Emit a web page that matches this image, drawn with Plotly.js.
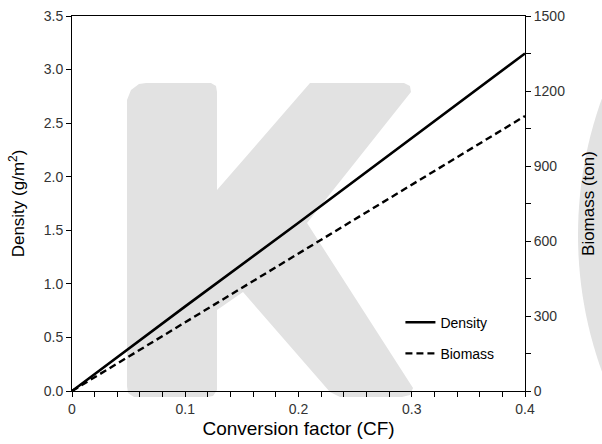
<!DOCTYPE html>
<html>
<head>
<meta charset="utf-8">
<script src="https://cdn.plot.ly/plotly-3.0.1.min.js"></script>
<style>html,body{margin:0;padding:0;background:#fff;}#chart{width:602px;height:444px;}</style>
</head>
<body>
<div id="chart"></div>
<script>
// Data
const conversionFactor = [0, 0.1, 0.2, 0.3, 0.4];
const densityValues = [0, 0.79, 1.57, 2.36, 3.15];
const biomassValues = [0, 275, 550, 825, 1100];
const xTickVals = [0, 0.1, 0.2, 0.3, 0.4];
const yTickVals = [0, 0.5, 1.0, 1.5, 2.0, 2.5, 3.0, 3.5];
const y2TickVals = [0, 300, 600, 900, 1200, 1500];

// layout geometry (pixels)
const W = 602, H = 444;
const M = {l: 72, r: 77, t: 16, b: 53};
const PW = W - M.l - M.r, PH = H - M.t - M.b;
function px(x){ return ((x - M.l) / PW).toFixed(4); }
function py(y){ return ((H - M.b - y) / PH).toFixed(4); }
function P(pts){ return pts.map((p,i)=> (i? 'L':'M') + px(p[0]) + ',' + py(p[1])).join(' ') + ' Z'; }

// decorative watermark (background "K" and part of a circle at the right edge)
const kPath = P([
  [127,100],[131,90],[139,84],[146,83],[211,83],[216,86],[217,92],[217,190],
  [310,83],[404,83],[410,86],[411,92],[307,223],
  [413,388],[410,395],[402,397],[340,397],[330,392],
  [243,292],[217,310],[217,390],[213,396],[207,397],[134,397],[128,393],[127,386]
]);
const arcPts = [];
(function(){
  const cx = 980, cy = 235, r = 402;
  for (let y = 95; y <= 375; y += 10) {
    arcPts.push([cx - Math.sqrt(r*r - (y-cy)*(y-cy)), y]);
  }
  arcPts.push([620, 375]); arcPts.push([620, 95]);
})();
const circlePath = P(arcPts);
const wmColor = 'rgb(226,226,226)';

const font = "'Liberation Sans', Arial, sans-serif";

const traces = [
  {x: conversionFactor, y: densityValues, name: 'Density', type: 'scatter', mode: 'lines',
   line: {color: '#000', width: 2.6}, yaxis: 'y', legendgroup: 'a'},
  {x: conversionFactor, y: biomassValues, name: 'Biomass', type: 'scatter', mode: 'lines',
   line: {color: '#000', width: 2.4, dash: '7px,4px'}, yaxis: 'y2', legendgroup: 'b'}
];

const axisCommon = {
  showgrid: false, zeroline: false, showline: true, linecolor: '#000', linewidth: 1,
  ticks: 'outside', ticklen: 5, tickwidth: 1, tickcolor: '#000',
  tickfont: {family: font, size: 14, color: '#333'}
};

const layout = {
  width: W, height: H,
  margin: M,
  paper_bgcolor: '#fff', plot_bgcolor: 'rgba(0,0,0,0)',
  showlegend: true,
  legend: {x: 0.725, y: 0.225, xanchor: 'left', yanchor: 'top', bgcolor: 'rgba(0,0,0,0)',
           font: {family: font, size: 14, color: '#000'}, traceorder: 'grouped', tracegroupgap: 10,
           itemwidth: 30},
  xaxis: Object.assign({}, axisCommon, {
    range: [0, 0.4], tickvals: xTickVals, ticktext: xTickVals.map(v => v === 0 ? '0' : v.toFixed(1)),
    mirror: true,
    minor: {dtick: 0.02, ticks: 'outside', ticklen: 5, tickcolor: '#000', tickwidth: 1},
    title: {text: 'Conversion factor (CF)', font: {family: font, size: 19, color: '#000'}, standoff: 5}
  }),
  yaxis: Object.assign({}, axisCommon, {
    range: [0, 3.5], tickvals: yTickVals, tickformat: '.1f',
    title: {text: 'Density (g/m<sup>2</sup>)', font: {family: font, size: 17, color: '#000'}, standoff: 14}
  }),
  yaxis2: Object.assign({}, axisCommon, {
    overlaying: 'y', side: 'right', range: [0, 1500], tickvals: y2TickVals,
    minor: {dtick: 150, ticks: 'outside', ticklen: 5, tickcolor: '#000', tickwidth: 1},
    title: {text: 'Biomass (ton)', font: {family: font, size: 17, color: '#000'}, standoff: 17}
  }),
  shapes: [
    {type: 'path', xref: 'paper', yref: 'paper', layer: 'below', path: circlePath,
     fillcolor: wmColor, line: {width: 0}},
    {type: 'path', xref: 'paper', yref: 'paper', layer: 'below', path: kPath,
     fillcolor: wmColor, line: {width: 0}}
  ]
};

Plotly.newPlot('chart', traces, layout, {displayModeBar: false, staticPlot: true});
</script>
</body>
</html>
